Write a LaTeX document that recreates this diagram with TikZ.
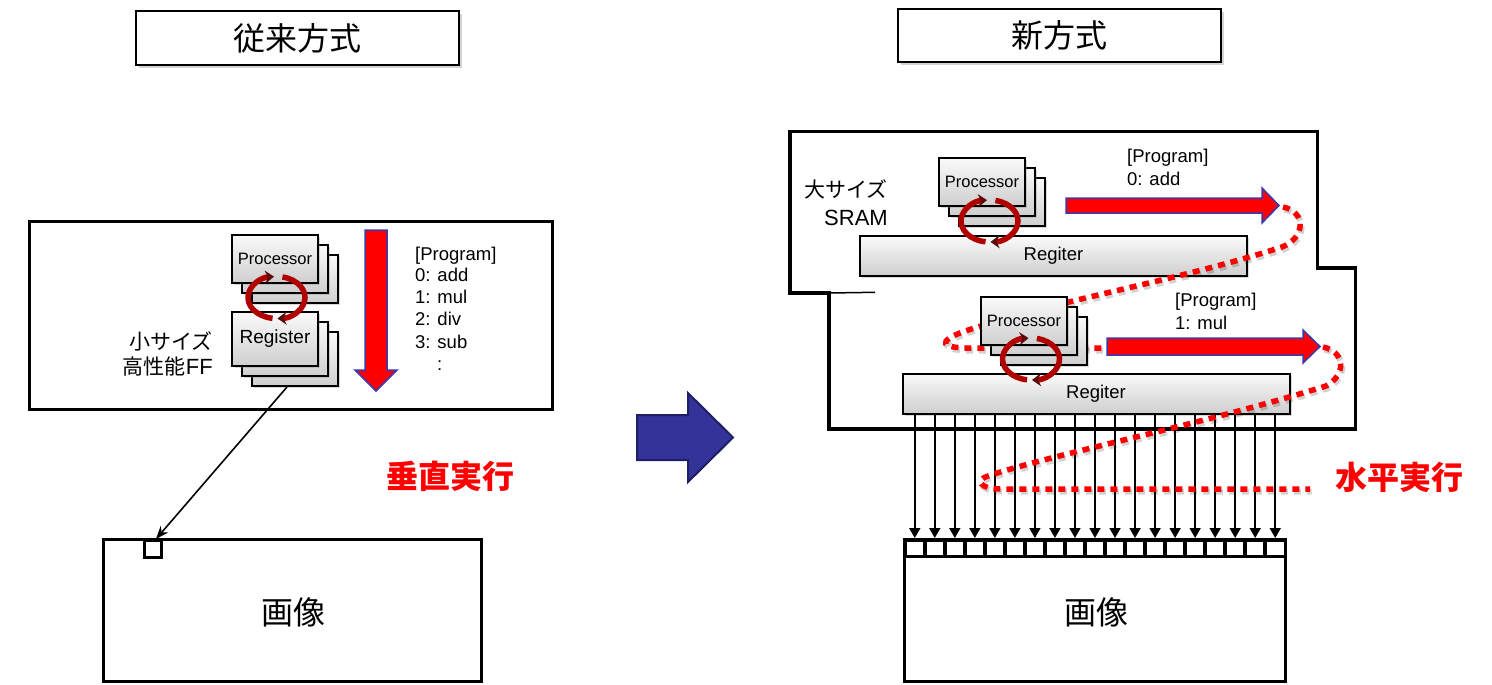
\documentclass[tikz,border=0pt]{standalone}
\usepackage{fontspec}
\setmainfont{Liberation Sans}
\newfontfamily\jp{Noto Sans CJK JP}
\usetikzlibrary{arrows.meta,shadows,calc}
\definecolor{arrowblue}{HTML}{333399}
\definecolor{arrowblueedge}{HTML}{1F1F66}
\definecolor{edgeblue}{HTML}{3A3AB0}
\definecolor{cyc}{HTML}{B00000}
\definecolor{cycdark}{HTML}{5A0A0A}
\begin{document}
\begin{tikzpicture}[x=1pt,y=-1pt,
  titlebox/.style={draw,line width=2.5pt,fill=white,minimum width=323pt,inner sep=0pt,
     drop shadow={shadow xshift=3pt,shadow yshift=-3pt,opacity=0.35},
     font=\jp\fontsize{32}{32}\selectfont},
  frame/.style={draw,line width=3.5pt,fill=white,inner sep=0pt,line join=miter},
  gbox/.style={draw,line width=2pt,top color=gray!4,bottom color=gray!38,inner sep=0pt,
     drop shadow={shadow xshift=2pt,shadow yshift=-2pt,opacity=0.3}},
  procbox/.style={gbox,minimum width=86pt,minimum height=48pt,font=\fontsize{16.5}{17}\selectfont},
  regbox/.style={gbox,minimum width=86pt,minimum height=54pt,font=\fontsize{19}{19}\selectfont},
  longreg/.style={gbox,minimum width=387pt,minimum height=40pt,font=\fontsize{18.5}{19}\selectfont},
  prog/.style={anchor=base west,inner sep=0pt,font=\fontsize{18.5}{20}\selectfont},
  jplabel/.style={anchor=base east,inner sep=0pt,font=\jp\fontsize{21}{22}\selectfont},
  bigred/.style={fill=red,draw=edgeblue,line width=1.5pt,line join=miter},
  redtitle/.style={inner sep=0pt,text=red,font=\jp\bfseries\fontsize{32}{32}\selectfont},
  imgtext/.style={inner sep=0pt,font=\jp\fontsize{32}{32}\selectfont},
  cycarc/.style={draw=cyc,line width=5.5pt,-{Stealth[length=9pt,width=13pt,color=cycdark]}},
  dotline/.style={draw=red,line width=5.5pt,dash pattern=on 7pt off 6pt},
  dotshadow/.style={draw=black,opacity=0.18,line width=6pt,dash pattern=on 7pt off 6pt},
  pixel/.style={draw,line width=3.5pt,fill=white,minimum width=20.03pt,minimum height=16.5pt,inner sep=0pt},
  varrow/.style={line width=1.8pt,-{Triangle[length=10pt,width=11pt]}},
  conn/.style={line width=1.6pt,-{Stealth[length=13pt,width=10pt]}},
  cyclearrows/.pic={
    \draw[cycarc] (98:28.5 and 21) arc[start angle=98,end angle=265,x radius=28.5,y radius=21];
    \draw[cycarc] (-78:28.5 and 21) arc[start angle=-78,end angle=88,x radius=28.5,y radius=21];
  }
]
\useasboundingbox (0,0) rectangle (1492,685);

% ---------------- left side ----------------
\node[titlebox,minimum height=54pt] (title1) at (297.5,38) {従来方式};
\node[frame,minimum width=523pt,minimum height=188pt] (leftbox) at (291,315.5) {};

\node[procbox] (procL3) at (295,279) {};
\node[procbox] (procL2) at (285,269) {};
\node[procbox] (procL) at (275,259) {Processor};
\node[regbox] (regL3) at (295,359) {};
\node[regbox] (regL2) at (285,349) {};
\node[regbox] (regL) at (275,339) {Register};
\pic at (276.5,297.5) {cyclearrows};

\draw[bigred] (365,230) -- (387,230) -- (387,370) -- (397,370) -- (376,391) -- (355,370) -- (365,370) -- cycle;

\node[prog] (pl0) at (415,260) {[Program]};
\node[prog] (pl1) at (415,281) {0: add};
\node[prog] (pl2) at (415,303) {1: mul};
\node[prog] (pl3) at (415,325) {2: div};
\node[prog] (pl4) at (415,348) {3: sub};
\node[prog] (pl5) at (437,370) {:};

\node[jplabel] (smallL1) at (213,349) {小サイズ};
\node[jplabel] (smallL2) at (213,374) {高性能{\rmfamily\fontsize{22}{22}\selectfont FF}};

\node[draw,line width=3.5pt,fill=white,minimum width=378pt,minimum height=142pt,inner sep=0pt] (imgL) at (292.5,610.5) {};
\node[imgtext] (imgLtext) at (293,612) {画像};
\node[draw,line width=3pt,fill=white,minimum size=17pt,inner sep=0pt] (pixL) at (153,549) {};
\draw[conn] ([xshift=-8pt]regL3.south) -- ([xshift=3pt]pixL.north);

\node[redtitle] (vert) at (450,476) {垂直実行};

% ---------------- middle arrow ----------------
\filldraw[fill=arrowblue,draw=arrowblueedge,line width=2pt,line join=miter]
  (637,415) -- (688,415) -- (688,393) -- (733,437.5) -- (688,482) -- (688,460) -- (637,460) -- cycle;

% ---------------- right side ----------------
\node[titlebox,minimum height=53pt] (title2) at (1059.5,35.5) {新方式};

\draw[frame] (790,131.5) -- (1317.5,131.5) -- (1317.5,268) -- (1355.5,268) -- (1355.5,429)
  -- (829,429) -- (829,293) -- (790,293) -- cycle;
\draw[line width=1.5pt] (829,293) -- (875,292.3);

\node[jplabel] (bigS1) at (888,197) {大サイズ};
\node[jplabel,font=\fontsize{22}{22}\selectfont] (bigS2) at (888,225) {SRAM};

\node[longreg] (regU) at (1053.5,256) {Regiter};
\node[longreg] (regR) at (1096,393.5) {Regiter};

% pixel row and image
\node[draw,line width=3.5pt,fill=white,minimum width=381pt,minimum height=125pt,inner sep=0pt] (imgR) at (1095,619) {};
\foreach \i in {1,...,19}
  \node[pixel] (pR\i) at ({904.75+20.026*(\i-0.5)},548) {};
\node[imgtext] (imgRtext) at (1096,612) {画像};
\foreach \i in {1,...,19}
  \draw[varrow] (regR.south -| pR\i.north) -- (pR\i.north);

% dotted paths (shadow then red)
\draw[dotshadow,xshift=1.5pt,yshift=-2.5pt]
  (1283,207) .. controls (1307,212) and (1305,238) .. (1282,247)
  .. controls (1180,280) and (1060,300) .. (978,327)
  .. controls (940,338) and (935,347) .. (965,348) -- (1105,348);
\draw[dotline]
  (1283,207) .. controls (1307,212) and (1305,238) .. (1282,247)
  .. controls (1180,280) and (1060,300) .. (978,327)
  .. controls (940,338) and (935,347) .. (965,348) -- (1105,348);
\draw[dotshadow,xshift=1.5pt,yshift=-2.5pt]
  (1323,347) .. controls (1346,352) and (1346,375) .. (1326,386)
  .. controls (1200,425) and (1050,455) .. (988,476)
  .. controls (975,480) and (980,489) .. (1000,489) -- (1310,489);
\draw[dotline]
  (1323,347) .. controls (1346,352) and (1346,375) .. (1326,386)
  .. controls (1200,425) and (1050,455) .. (988,476)
  .. controls (975,480) and (980,489) .. (1000,489) -- (1310,489);

% upper processor stack
\node[procbox] (procU3) at (1002,202) {};
\node[procbox] (procU2) at (992,192) {};
\node[procbox] (procU) at (982,182) {Processor};
\pic at (989.5,221) {cyclearrows};

% lower processor stack
\node[procbox] (procR3) at (1044,341) {};
\node[procbox] (procR2) at (1034,331) {};
\node[procbox] (procR) at (1024,321) {Processor};
\pic at (1031,359) {cyclearrows};

% red arrows
\draw[bigred] (1066,198) -- (1262,198) -- (1262,188) -- (1279,205.5) -- (1262,223) -- (1262,213) -- (1066,213) -- cycle;
\draw[bigred] (1107,338) -- (1303,338) -- (1303,330) -- (1320,346.5) -- (1303,363) -- (1303,355) -- (1107,355) -- cycle;

\node[prog] (pu0) at (1127,162) {[Program]};
\node[prog] (pu1) at (1127,185) {0: add};
\node[prog] (pr0) at (1175,306) {[Program]};
\node[prog] (pr1) at (1175,329) {1: mul};

\node[redtitle] (horiz) at (1399,477) {水平実行};
\end{tikzpicture}
\end{document}
